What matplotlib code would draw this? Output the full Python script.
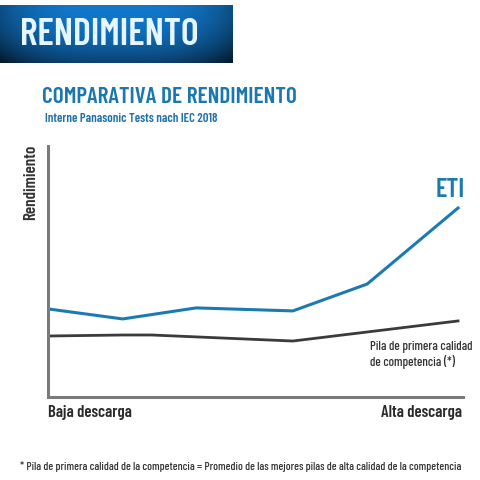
import numpy as np
import matplotlib
matplotlib.use("Agg")
import matplotlib.pyplot as plt

# Data (arbitrary performance units)
x_eti = [0, 18, 35.7, 59, 76.9, 98.8]
y_eti = [35.1, 31.1, 35.5, 34.3, 45.0, 75.3]
x_comp = [0, 18, 25, 59, 98.8]
y_comp = [24.3, 24.7, 24.7, 22.3, 30.3]

FAM = ['Barlow Condensed', 'DejaVu Sans']

fig = plt.figure(figsize=(4.8, 4.8), dpi=100)
fig.patch.set_facecolor('white')

# Header band with gradient
hax = fig.add_axes([0, 1 - 63/480, 233/480, 58/480])
gx = np.linspace(-1, 1, 200)
gy = np.linspace(0, 1, 60)
GX, GY = np.meshgrid(gx, gy)
shade = 1 - 0.35 * np.abs(GX) ** 3 - 0.45 * GY ** 2
c0 = np.array([0x12, 0x78, 0xcc]) / 255
img = np.clip(shade[..., None] * c0[None, None, :], 0, 1)
hax.imshow(img, aspect='auto', extent=[0, 1, 0, 1], origin='upper')
hax.set_axis_off()
fig.text(20/480, 1 - 35/480, 'RENDIMIENTO', family=FAM, weight=600, fontsize=27.3,
         color='#e6f6ff', va='center', ha='left')

fig.text(42/480, 1 - 97/480, 'COMPARATIVA DE RENDIMIENTO', family=FAM, weight=600,
         fontsize=16.8, color='#1a78ae', va='center', ha='left')
fig.text(45/480, 1 - 119/480, 'Interne Panasonic Tests nach IEC 2018', family=FAM, weight=600,
         fontsize=9.1, color='#1f6fa8', va='center', ha='left')

ax = fig.add_axes([48/480, 1 - 397/480, (463 - 48)/480, (397 - 146)/480])
ax.plot(x_eti, y_eti, color='#1b7bb0', lw=2.2)
ax.plot(x_comp, y_comp, color='#3b3b3d', lw=2.0)
ax.set_xlim(0, 100)
ax.set_ylim(0, 100)
for s in ['top', 'right']:
    ax.spines[s].set_visible(False)
for s in ['left', 'bottom']:
    ax.spines[s].set_color('#7a7a7a')
    ax.spines[s].set_linewidth(2.2)
ax.set_xticks([])
ax.set_yticks([])
ax.patch.set_alpha(0)

ax.text(100.5, 77.5, 'ETI', family=FAM, weight=600, fontsize=19, color='#1b7bb0',
        ha='right', va='bottom')
ax.text(77.5, 22.5, 'Pila de primera calidad\nde competencia (*)', family=FAM, weight=500,
        fontsize=9.3, color='#333333', ha='left', va='top', linespacing=1.25)

fig.text(31/480, 1 - 182/480, 'Rendimiento', family=FAM, weight=600, fontsize=12.3,
         color='#333333', rotation=90, ha='center', va='center')
fig.text(48/480, 1 - 412/480, 'Baja descarga', family=FAM, weight=600, fontsize=12,
         color='#2b2b2b', ha='left', va='center')
fig.text(462/480, 1 - 412/480, 'Alta descarga', family=FAM, weight=600, fontsize=12,
         color='#2b2b2b', ha='right', va='center')
fig.text(20/480, 1 - 466/480,
         '* Pila de primera calidad de la competencia = Promedio de las mejores pilas de alta calidad de la competencia',
         family=FAM, weight=500, fontsize=8.3, color='#333333', ha='left', va='center')

fig.savefig('out.png', dpi=100)
